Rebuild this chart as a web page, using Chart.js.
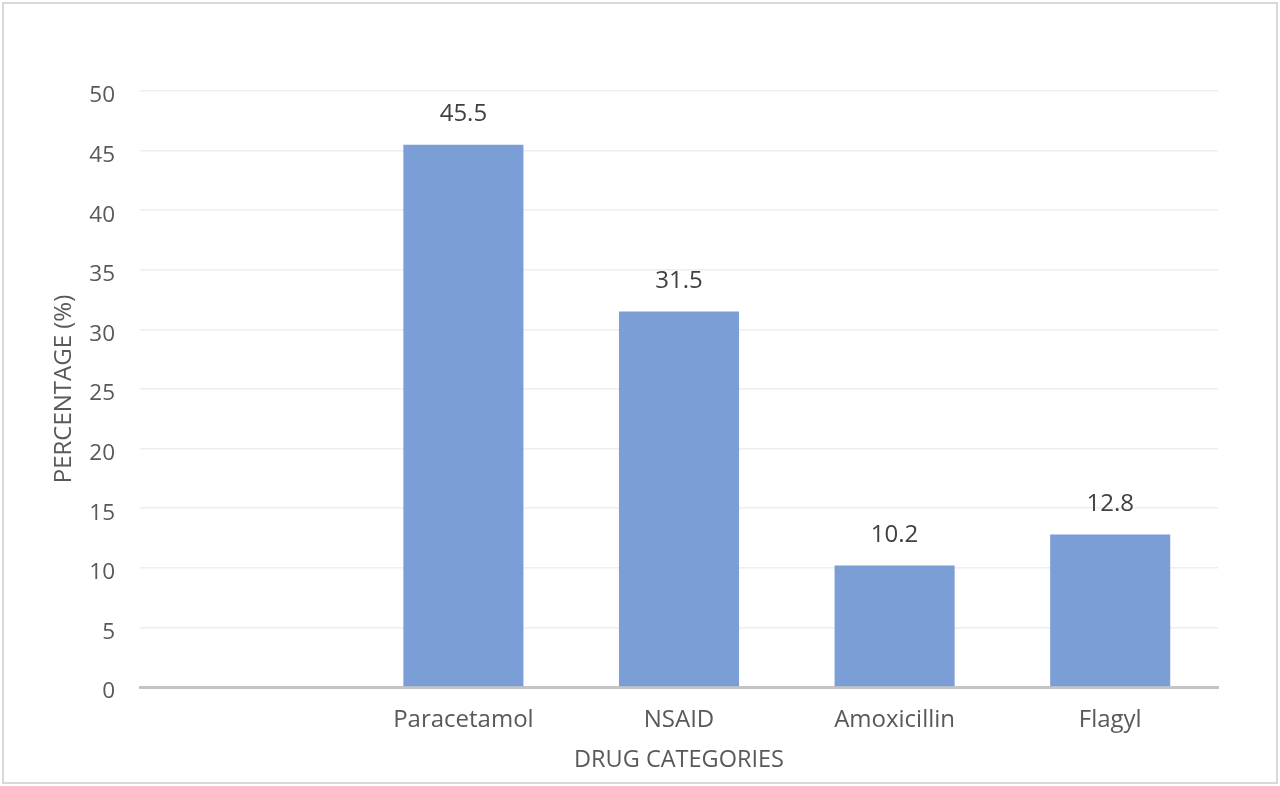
<!DOCTYPE html>
<html>
<head>
<meta charset="utf-8">
<script src="https://cdn.jsdelivr.net/npm/chart.js@4/dist/chart.umd.min.js"></script>
<style>
  html, body { margin: 0; padding: 0; background: #fff; }
  #wrap { position: absolute; left: 0; top: 0; width: 1280px; height: 786px; }
  #frame { position: absolute; left: 2px; top: 2px; width: 1272px; height: 778px; border: 2px solid #d9d9d9; pointer-events: none; }
</style>
</head>
<body>
<div id="wrap">
  <canvas id="myChart" width="1280" height="786"></canvas>
  <div id="frame"></div>
</div>
<script>
'use strict';

// chart data
let categories = ['', 'Paracetamol', 'NSAID', 'Amoxicillin', 'Flagyl'];
let percentages = [null, 45.5, 31.5, 10.2, 12.8];
let yTicks = [0, 5, 10, 15, 20, 25, 30, 35, 40, 45, 50];

let fontFamily = '"Open Sans", "Liberation Sans", sans-serif';
let greyText = '#595959';

// draws the number above each bar
let valueLabels = {
  id: 'valueLabels',
  afterDatasetsDraw(chart) {
    let ctx = chart.ctx;
    let meta = chart.getDatasetMeta(0);
    ctx.save();
    ctx.font = '24px ' + fontFamily;
    ctx.fillStyle = '#404040';
    ctx.textAlign = 'center';
    ctx.textBaseline = 'middle';
    meta.data.forEach(function (bar, i) {
      if (percentages[i] === null) return;
      ctx.fillText(percentages[i].toFixed(1), bar.x, bar.y - 30);
    });
    ctx.restore();
  }
};

let ctx = document.getElementById('myChart').getContext('2d');
let myChart = new Chart(ctx, {
  type: 'bar',
  data: {
    labels: categories,
    datasets: [{
      data: percentages,
      backgroundColor: '#7b9ed7',
      categoryPercentage: 1,
      barPercentage: 0.557
    }]
  },
  options: {
    responsive: false,
    animation: false,
    layout: { padding: { left: 50, right: 62, top: 91, bottom: 12 } },
    plugins: { legend: { display: false }, tooltip: { enabled: false } },
    scales: {
      x: {
        grid: { display: false },
        border: { color: '#c4c4c4', width: 3 },
        ticks: { color: greyText, font: { family: fontFamily, size: 24 }, padding: 11 },
        title: {
          display: true,
          text: 'DRUG CATEGORIES',
          color: greyText,
          font: { family: fontFamily, size: 23.5 },
          padding: { top: 2, bottom: 0 }
        },
        afterFit(scale) { scale.height = 87; }
      },
      y: {
        min: 0,
        max: 50,
        afterBuildTicks(scale) { scale.ticks = yTicks.map(v => ({ value: v })); },
        grid: { color: '#eeeeee', lineWidth: 1.5, drawTicks: false },
        border: { display: false },
        ticks: { color: greyText, font: { family: fontFamily, size: 22.5 }, padding: 25, labelOffset: 5 },
        title: {
          display: true,
          text: 'PERCENTAGE (%)',
          color: greyText,
          font: { family: fontFamily, size: 24 },
          padding: { top: 0, bottom: 0 }
        },
        afterFit(scale) { scale.width = 90; }
      }
    }
  },
  plugins: [valueLabels]
});
</script>
</body>
</html>
